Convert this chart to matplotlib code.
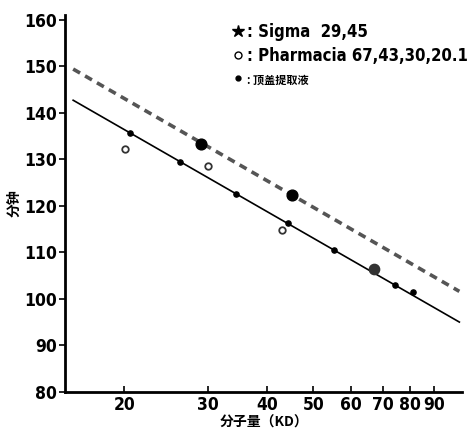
import numpy as np
import matplotlib.pyplot as plt
from matplotlib.lines import Line2D

plt.rcParams['font.family'] = ['DejaVu Sans', 'Noto Sans CJK SC']
plt.rcParams['font.stretch'] = 'condensed'
cjk = ['Noto Sans CJK SC', 'DejaVu Sans']

# Sigma standards (big filled dots)
sigma_kd = [29, 45]
sigma_min = [133.3, 122.3]

# Pharmacia standards (open circles)
pharm_kd = [20.1, 30, 43, 67]
pharm_min = [132.3, 128.6, 114.9, 106.4]

# extract (small dots on the solid line)
ext_kd = [20.6, 26.2, 34.4, 44.3, 55.2, 74.5, 81]
ext_min = [135.6, 129.4, 122.5, 116.3, 110.6, 103.0, 101.4]

# fitted lines (end points)
fit_kd = [15.6, 101.6]
solid_min = [142.7, 95.0]
dashed_min = [149.4, 101.6]

xticks = [20, 30, 40, 50, 60, 70, 80, 90]
yticks = [80, 90, 100, 110, 120, 130, 140, 150, 160]

fig = plt.figure(figsize=(4.75, 4.32), dpi=100)
ax = fig.add_axes([0.137, 0.093, 0.836, 0.872])

ax.plot(fit_kd, dashed_min, color='#555555', lw=2.6, ls=(0, (2.2, 1.6)))
ax.plot(fit_kd, solid_min, color='black', lw=1.2)
ax.scatter(ext_kd, ext_min, s=14, color='black', zorder=3)
ax.scatter(pharm_kd[:3], pharm_min[:3], s=22, facecolor='white', edgecolor='#333333', lw=1.3, zorder=3)
ax.scatter(pharm_kd[3:], pharm_min[3:], s=55, color='#333333', zorder=3)
ax.scatter(sigma_kd, sigma_min, s=60, color='black', zorder=3)

ax.set_xscale('log')
ax.set_xlim(15, 103)
ax.set_ylim(80, 161)
ax.set_xticks(xticks)
ax.set_xticklabels([str(t) for t in xticks])
ax.minorticks_off()
ax.set_yticks(yticks)
ax.tick_params(axis='x', direction='in', length=4, width=1.2, labelsize=12.5, pad=3)
ax.tick_params(axis='y', direction='out', length=4, width=1.2, labelsize=12.5, pad=2)
for lab in ax.get_xticklabels() + ax.get_yticklabels():
    lab.set_fontweight('bold')
for s in ['top', 'right']:
    ax.spines[s].set_visible(False)
for s in ['left', 'bottom']:
    ax.spines[s].set_linewidth(2)

ax.set_xlabel('分子量（KD）', family=cjk, fontsize=10, fontweight='bold', labelpad=1)
ax.set_ylabel('分钟', family=cjk, fontsize=10, fontweight='bold', labelpad=2)

handles = [
    Line2D([], [], ls='none', marker='*', ms=9, color='black'),
    Line2D([], [], ls='none', marker='o', ms=5, mfc='white', mec='black'),
    Line2D([], [], ls='none', marker='.', ms=7, color='black'),
]
labels = [': Sigma  29,45', ': Pharmacia 67,43,30,20.1', ': 顶盖提取液']
leg = ax.legend(handles, labels, loc='upper left', bbox_to_anchor=(0.385, 1.02),
                frameon=False, handlelength=0.6, handletextpad=0.25, labelspacing=0.4,
                prop={'size': 12, 'weight': 'bold', 'stretch': 'condensed'})
leg.get_texts()[2].set_fontfamily(cjk)
leg.get_texts()[2].set_fontsize(8)

fig.savefig('out.png', dpi=100)
